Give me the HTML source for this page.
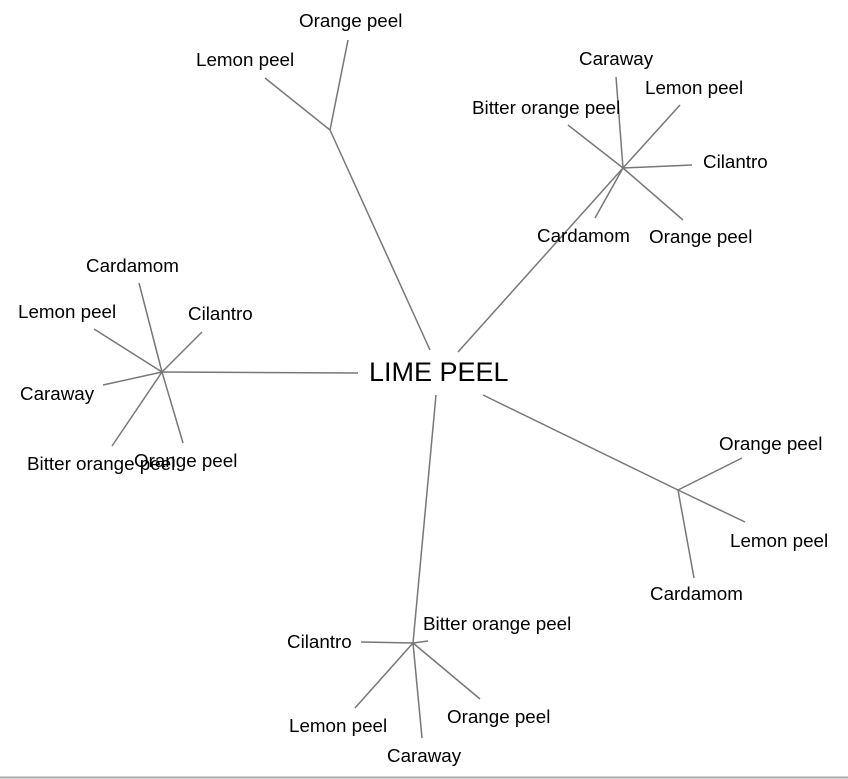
<!DOCTYPE html>
<html><head><style>
html,body{margin:0;padding:0;background:#fff;}
svg{display:block;}
text{font-family:"Liberation Sans",Arial,sans-serif;font-size:18.8px;fill:#000;}
</style></head><body>
<svg width="848" height="779" viewBox="0 0 848 779" xmlns="http://www.w3.org/2000/svg">
<g stroke="#777" stroke-width="1.5" fill="none">
<line x1="430" y1="350" x2="330" y2="130"/>
<line x1="330" y1="130" x2="265" y2="78"/>
<line x1="330" y1="130" x2="348" y2="40"/>
<line x1="458" y1="352" x2="623" y2="168"/>
<line x1="623" y1="168" x2="616" y2="77"/>
<line x1="623" y1="168" x2="680" y2="105"/>
<line x1="623" y1="168" x2="568" y2="125"/>
<line x1="623" y1="168" x2="692" y2="165"/>
<line x1="623" y1="168" x2="683" y2="220"/>
<line x1="623" y1="168" x2="595" y2="218"/>
<line x1="358" y1="373" x2="162" y2="372"/>
<line x1="162" y1="372" x2="139" y2="283"/>
<line x1="162" y1="372" x2="202" y2="332"/>
<line x1="162" y1="372" x2="94" y2="329"/>
<line x1="162" y1="372" x2="103" y2="385"/>
<line x1="162" y1="372" x2="112" y2="446"/>
<line x1="162" y1="372" x2="183" y2="443"/>
<line x1="483" y1="395" x2="678" y2="490"/>
<line x1="678" y1="490" x2="742" y2="458"/>
<line x1="678" y1="490" x2="745" y2="522"/>
<line x1="678" y1="490" x2="694" y2="578"/>
<line x1="436" y1="395" x2="413" y2="643"/>
<line x1="413" y1="643" x2="361" y2="642"/>
<line x1="413" y1="643" x2="428" y2="641"/>
<line x1="413" y1="643" x2="355" y2="708"/>
<line x1="413" y1="643" x2="422" y2="738"/>
<line x1="413" y1="643" x2="480" y2="699"/>
</g>
<line x1="0" y1="777.5" x2="848" y2="777.5" stroke="#aaa" stroke-width="2"/>
<text x="369" y="381" style="font-size:27px">LIME PEEL</text>
<text x="299" y="27">Orange peel</text>
<text x="196" y="66">Lemon peel</text>
<text x="579" y="65">Caraway</text>
<text x="645" y="94">Lemon peel</text>
<text x="472" y="114">Bitter orange peel</text>
<text x="703" y="168">Cilantro</text>
<text x="537" y="242">Cardamom</text>
<text x="649" y="243">Orange peel</text>
<text x="86" y="272">Cardamom</text>
<text x="18" y="318">Lemon peel</text>
<text x="188" y="320">Cilantro</text>
<text x="20" y="400">Caraway</text>
<text x="27" y="470">Bitter orange peel</text>
<text x="134" y="467">Orange peel</text>
<text x="719" y="450">Orange peel</text>
<text x="730" y="547">Lemon peel</text>
<text x="650" y="600">Cardamom</text>
<text x="423" y="630">Bitter orange peel</text>
<text x="287" y="648">Cilantro</text>
<text x="447" y="723">Orange peel</text>
<text x="289" y="732">Lemon peel</text>
<text x="387" y="762">Caraway</text>
</svg>
</body></html>
